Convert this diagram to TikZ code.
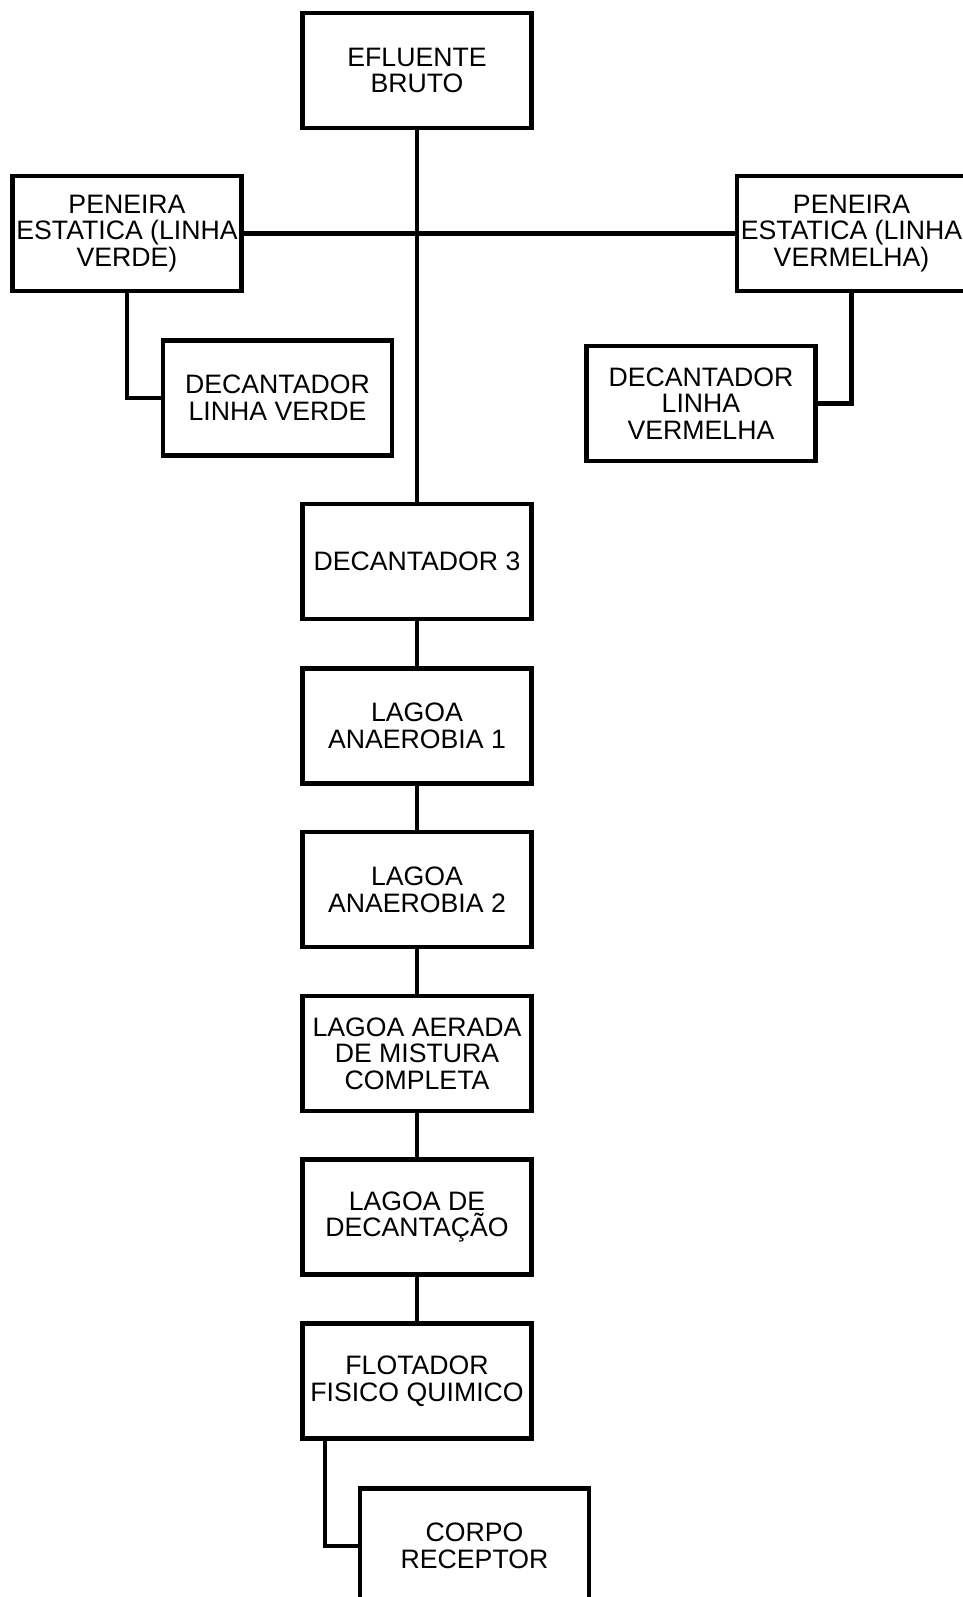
\documentclass[tikz,border=0pt]{standalone}
\usepackage{fontspec}
\setmainfont{Liberation Sans}
\begin{document}
\begin{tikzpicture}[x=0.75pt,y=-0.75pt,
  box/.style={draw=black, line width=3.3pt, minimum width=172pt, minimum height=86pt,
    inner sep=0pt, align=center, font=\fontsize{20}{20}\selectfont},
  link/.style={line width=3.3pt}]
\useasboundingbox (0,0) rectangle (963,1597);
\clip (0,0) rectangle (963,1597);
\node[box] (efl) at (417,70.5) {EFLUENTE\\BRUTO};
\node[box] (penl) at (127,233.5) {PENEIRA\\ESTATICA (LINHA\\VERDE)};
\node[box] (penr) at (851.5,233.5) {PENEIRA\\ESTATICA (LINHA\\VERMELHA)};
\node[box] (declv) at (277.5,398) {DECANTADOR\\LINHA VERDE};
\node[box] (declm) at (701,403.5) {DECANTADOR\\LINHA\\VERMELHA};
\node[box] (dec3) at (417,561.5) {DECANTADOR 3};
\node[box] (la1) at (417,726) {LAGOA\\ANAEROBIA 1};
\node[box] (la2) at (417,889.5) {LAGOA\\ANAEROBIA 2};
\node[box] (laer) at (417,1053.5) {LAGOA AERADA\\DE MISTURA\\COMPLETA};
\node[box] (ldec) at (417,1217) {LAGOA DE\\DECANTAÇÃO};
\node[box] (flot) at (417,1381) {FLOTADOR\\FISICO QUIMICO};
\node[box] (corpo) at (474.5,1546) {CORPO\\RECEPTOR};
\coordinate (fb) at (325,1381);
\draw[link] (efl.south) -- (dec3.north);
\draw[link] (penl.east) -- (penr.west);
\draw[link] (penl.south) |- (declv.west);
\draw[link] (penr.south) |- (declm.east);
\draw[link] (dec3) -- (la1);
\draw[link] (la1) -- (la2);
\draw[link] (la2) -- (laer);
\draw[link] (laer) -- (ldec);
\draw[link] (ldec) -- (flot);
\draw[link] (fb |- flot.south) |- (corpo.west);
\end{tikzpicture}
\end{document}
